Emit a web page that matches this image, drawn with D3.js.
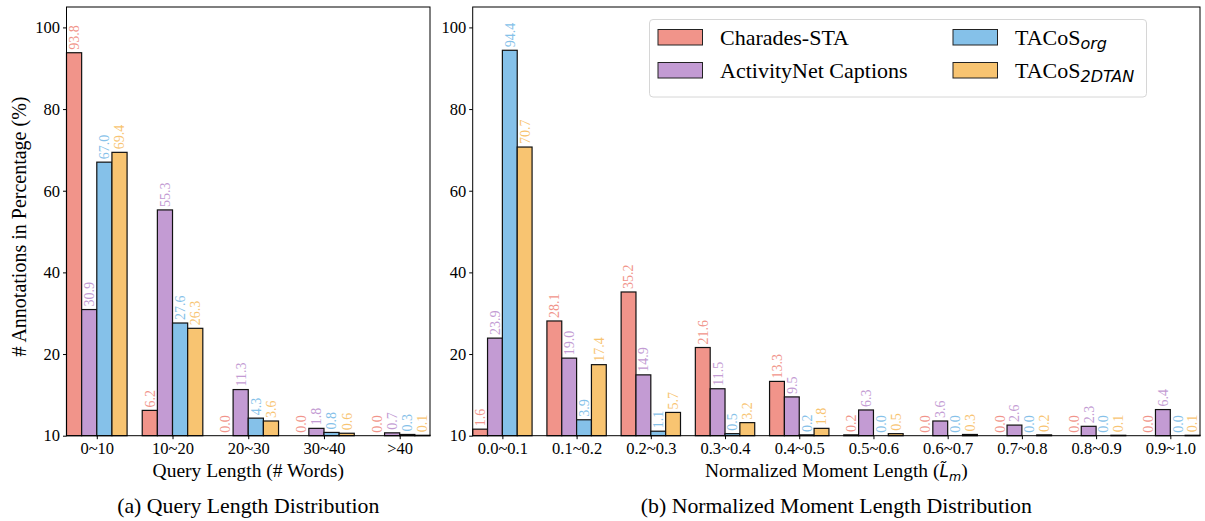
<!DOCTYPE html>
<html>
<head>
<meta charset="utf-8">
<script src="https://cdn.jsdelivr.net/npm/d3@7"></script>
<style>
  body { margin: 0; background: #fff; }
  text { font-family: "Liberation Serif", "Times New Roman", serif; }
</style>
</head>
<body>
<div id="chart"></div>
<script>
// Data
const seriesNames = ["Charades-STA", "ActivityNet Captions", "TACoS", "TACoS"];
const seriesSubs = [null, null, "org", "2DTAN"];
const colors = ["#F1948A", "#C39BD3", "#85C1E9", "#F8C471"];

const queryCats = ["0~10", "10~20", "20~30", "30~40", ">40"];
const queryCharades = [93.8, 6.2, 0.0, 0.0, 0.0];
const queryActivity = [30.9, 55.3, 11.3, 1.8, 0.7];
const queryTacosOrg = [67.0, 27.6, 4.3, 0.8, 0.3];
const queryTacos2d = [69.4, 26.3, 3.6, 0.6, 0.1];

const momentCats = ["0.0~0.1", "0.1~0.2", "0.2~0.3", "0.3~0.4", "0.4~0.5",
                    "0.5~0.6", "0.6~0.7", "0.7~0.8", "0.8~0.9", "0.9~1.0"];
const momentCharades = [1.6, 28.1, 35.2, 21.6, 13.3, 0.2, 0.0, 0.0, 0.0, 0.0];
const momentActivity = [23.9, 19.0, 14.9, 11.5, 9.5, 6.3, 3.6, 2.6, 2.3, 6.4];
const momentTacosOrg = [94.4, 3.9, 1.1, 0.5, 0.2, 0.0, 0.0, 0.0, 0.0, 0.0];
const momentTacos2d = [70.7, 17.4, 5.7, 3.2, 1.8, 0.5, 0.3, 0.2, 0.1, 0.1];

const yTicks = [0, 20, 40, 60, 80, 100];
const yTickLabels = ["10", "20", "40", "60", "80", "100"];

const width = 1205;
const height = 521;
const plotTop = 7, plotBottom = 435.7;

const svg = d3.select("#chart")
    .append("svg")
    .attr("width", width)
    .attr("height", height);

const y = d3.scaleLinear().domain([0, 105]).range([plotBottom, plotTop]);

function drawPanel(left, right, cats, series, xTitle, caption) {
    const x = d3.scaleLinear()
        .domain([-0.4, cats.length - 1 + 0.4])
        .range([left, right]);
    const barW = 0.2;
    const g = svg.append("g");

    series.forEach((vals, j) => {
        const off = (j - 1.5) * barW;
        g.append("g").selectAll("rect")
            .data(vals)
            .enter().append("rect")
            .attr("x", (d, i) => x(i + off - barW / 2))
            .attr("width", x(barW) - x(0))
            .attr("y", d => y(d))
            .attr("height", d => y(0) - y(d))
            .attr("fill", colors[j])
            .attr("stroke", "#111")
            .attr("stroke-width", 1.2);

        g.append("g").selectAll("text")
            .data(vals)
            .enter().append("text")
            .attr("transform", (d, i) => `translate(${x(i + off)},${y(d) - 3}) rotate(-90)`)
            .attr("dy", "0.35em")
            .attr("font-size", 14)
            .attr("fill", colors[j])
            .text(d => d.toFixed(1));
    });

    // frame
    g.append("rect")
        .attr("x", left).attr("y", plotTop)
        .attr("width", right - left).attr("height", plotBottom - plotTop)
        .attr("fill", "none").attr("stroke", "#000").attr("stroke-width", 1);

    // x axis
    const xAxis = d3.axisBottom(x)
        .tickValues(d3.range(cats.length))
        .tickFormat(i => cats[i])
        .tickSize(3.5).tickPadding(3);
    const xa = g.append("g").attr("transform", `translate(0,${plotBottom})`).call(xAxis);
    xa.select(".domain").remove();
    xa.selectAll("text").attr("font-size", 16.5).attr("fill", "#000")
        .style("font-family", "Liberation Serif");

    // y axis
    const yAxis = d3.axisLeft(y)
        .tickValues(yTicks)
        .tickFormat((d, i) => yTickLabels[i])
        .tickSize(3.5).tickPadding(3);
    const ya = g.append("g").attr("transform", `translate(${left},0)`).call(yAxis);
    ya.select(".domain").remove();
    ya.selectAll("text").attr("font-size", 16.5).attr("fill", "#000")
        .style("font-family", "Liberation Serif");

    const cx = (left + right) / 2;
    const xt = g.append("text")
        .attr("x", cx).attr("y", 477)
        .attr("text-anchor", "middle")
        .attr("font-size", 19.5);
    xTitle(xt);

    g.append("text")
        .attr("x", cx).attr("y", 513)
        .attr("text-anchor", "middle")
        .attr("font-size", 21.8)
        .text(caption);
}

drawPanel(66.5, 430, queryCats,
    [queryCharades, queryActivity, queryTacosOrg, queryTacos2d],
    t => t.text("Query Length (# Words)"),
    "(a) Query Length Distribution");

drawPanel(472.7, 1200, momentCats,
    [momentCharades, momentActivity, momentTacosOrg, momentTacos2d],
    t => {
        t.append("tspan").text("Normalized Moment Length (");
        t.append("tspan").style("font-family", "DejaVu Sans").style("font-style", "italic")
            .attr("font-size", 17).text("L\u0303");
        t.append("tspan").style("font-family", "DejaVu Sans").style("font-style", "italic")
            .attr("font-size", 12.5).attr("dy", 3.5).text("m");
        t.append("tspan").attr("dy", -3.5).text(")");
    },
    "(b) Normalized Moment Length Distribution");

// y-axis label
svg.append("text")
    .attr("transform", "translate(26,226.5) rotate(-90)")
    .attr("text-anchor", "middle")
    .attr("font-size", 20)
    .text("# Annotations in Percentage (%)");

// legend
const legend = svg.append("g");
legend.append("rect")
    .attr("x", 649.5).attr("y", 19.5)
    .attr("width", 497).attr("height", 77.5)
    .attr("rx", 3.5)
    .attr("fill", "#fff").attr("fill-opacity", 0.8)
    .attr("stroke", "#d6d6d6").attr("stroke-width", 1);

const legendCols = [658, 953];
const legendRows = [29.5, 62.5];
seriesNames.forEach((name, j) => {
    const col = j < 2 ? 0 : 1;
    const row = j % 2;
    const lx = legendCols[col], ly = legendRows[row];
    legend.append("rect")
        .attr("x", lx).attr("y", ly)
        .attr("width", 44.5).attr("height", 15.5)
        .attr("fill", colors[j])
        .attr("stroke", "#222").attr("stroke-width", 1);
    const t = legend.append("text")
        .attr("x", lx + 62).attr("y", ly + 15.5)
        .attr("font-size", 22)
        .text(name);
    if (seriesSubs[j]) {
        t.append("tspan")
            .attr("dy", 4)
            .attr("font-size", 16)
            .style("font-family", "DejaVu Sans")
            .style("font-style", "italic")
            .text(seriesSubs[j]);
    }
});
</script>
</body>
</html>
